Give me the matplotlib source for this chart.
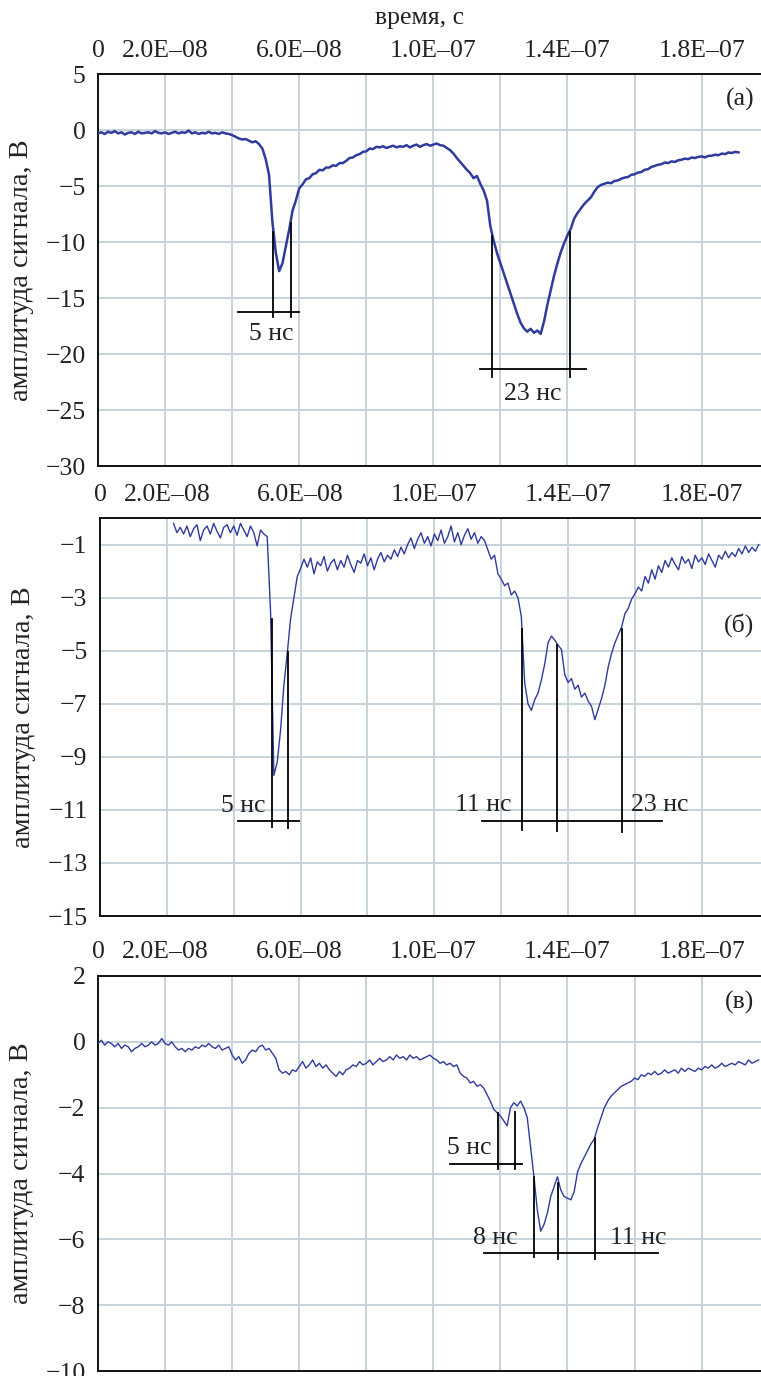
import numpy as np
import matplotlib
matplotlib.use("Agg")
import matplotlib.pyplot as plt

plt.rcParams["font.family"] = ["Liberation Serif", "DejaVu Serif"]

# ---- signal data: amplitude in volts, sampled every 1 ns ----
T_STEP_NS = 1.0

start_a_ns = 0
amp_a = [
    -0.30, -0.20, -0.35, -0.15, -0.25, -0.10, -0.30, -0.20, -0.40, -0.25,
    -0.20, -0.35, -0.15, -0.30, -0.25, -0.20, -0.30, -0.10, -0.25, -0.30,
    -0.20, -0.35, -0.25, -0.15, -0.30, -0.20, -0.25, -0.05, -0.30, -0.20,
    -0.35, -0.25, -0.30, -0.15, -0.30, -0.25, -0.35, -0.20, -0.30, -0.35,
    -0.45, -0.60, -0.75, -0.85, -0.80, -0.95, -1.10, -1.00, -1.25, -1.65,
    -2.60, -4.00, -8.20, -10.90, -12.60, -11.90, -10.40, -8.90, -7.20, -6.30,
    -5.20, -4.85, -4.40, -4.30, -3.95, -3.85, -3.55, -3.60, -3.35, -3.35,
    -3.15, -3.20, -2.95, -2.95, -2.75, -2.50, -2.45, -2.25, -2.15, -1.95,
    -1.90, -1.65, -1.70, -1.50, -1.55, -1.45, -1.60, -1.50, -1.40, -1.55,
    -1.45, -1.50, -1.35, -1.55, -1.40, -1.30, -1.50, -1.35, -1.25, -1.40,
    -1.30, -1.20, -1.35, -1.40, -1.60, -1.80, -2.10, -2.50, -2.85, -3.20,
    -3.55, -3.85, -4.30, -4.10, -4.80, -5.40, -6.30, -8.60, -9.90, -11.00,
    -11.90, -12.80, -13.70, -14.60, -15.50, -16.40, -17.20, -17.70, -18.00, -17.75,
    -18.10, -17.90, -18.20, -17.10, -15.60, -14.30, -13.00, -11.90, -10.90, -10.10,
    -9.40, -8.80, -7.90, -7.40, -7.00, -6.60, -6.30, -6.00, -5.50, -5.10,
    -4.90, -4.80, -4.70, -4.75, -4.55, -4.50, -4.35, -4.25, -4.20, -4.00,
    -3.95, -3.80, -3.75, -3.55, -3.50, -3.30, -3.20, -3.10, -3.05, -2.90,
    -2.95, -2.80, -2.85, -2.70, -2.65, -2.55, -2.60, -2.45, -2.50, -2.40,
    -2.35, -2.45, -2.30, -2.30, -2.20, -2.25, -2.10, -2.15, -2.00, -2.05,
    -1.95, -2.00,
]

start_b_ns = 22
amp_b = [
    -0.20, -0.55, -0.35, -0.60, -0.30, -0.70, -0.40, -0.25, -0.85, -0.45,
    -0.30, -0.60, -0.20, -0.50, -0.75, -0.35, -0.25, -0.55, -0.30, -0.65,
    -0.20, -0.45, -0.70, -0.30, -0.55, -1.05, -0.45, -0.60,
    -0.70, -3.50, -9.70, -9.20, -8.00, -6.30, -5.10, -3.80, -3.00, -2.20,
    -1.90, -1.55, -1.85, -1.50, -2.10, -1.65, -1.80, -1.45, -2.00, -1.70,
    -1.55, -1.95, -1.60, -1.85, -1.40, -1.75, -2.05, -1.60, -1.70, -1.35,
    -1.80, -1.50, -1.95, -1.55, -1.30, -1.65, -1.40, -1.55, -1.20, -1.45,
    -1.10, -1.35, -1.00, -0.75, -1.15, -0.80, -0.55, -0.95, -0.70, -1.05,
    -0.60, -0.85, -0.45, -0.95, -0.70, -0.30, -0.90, -0.55, -1.00, -0.65,
    -0.40, -0.80, -0.55, -0.95, -0.70, -0.85, -1.20, -1.55, -1.40, -2.10,
    -2.30, -2.55, -2.45, -2.90, -2.75, -3.00, -3.70, -6.20, -7.00, -7.25,
    -6.85, -6.60, -6.10, -5.50, -4.70, -4.45, -4.60, -4.80, -4.95, -5.90,
    -6.20, -6.05, -6.45, -6.30, -6.75, -6.60, -6.90, -7.10, -7.60, -7.20,
    -6.80, -6.30, -5.60, -5.10, -4.70, -4.40, -4.10, -3.60, -3.40, -3.05,
    -2.85, -2.60, -2.75, -2.20, -2.45, -1.95, -2.30, -1.80, -2.05, -1.60,
    -1.85, -1.50, -1.75, -1.95, -1.45, -1.70, -1.55, -1.90, -1.40, -1.65,
    -1.50, -1.75, -1.35, -1.60, -1.85, -1.40, -1.55, -1.25, -1.50, -1.30,
    -1.45, -1.15, -1.35, -1.05, -1.30, -1.10, -1.25, -1.00,
]

start_c_ns = 0
amp_c = [
    -0.05, 0.05, -0.10, 0.00, -0.05, -0.15, -0.05, -0.20, -0.10, -0.15,
    -0.30, -0.20, -0.15, -0.05, -0.15, -0.10, 0.00, -0.10, -0.05, 0.10,
    -0.05, -0.10, 0.00, -0.15, -0.25, -0.20, -0.30, -0.20, -0.25, -0.15,
    -0.20, -0.10, -0.15, -0.05, -0.15, -0.20, -0.10, -0.25, -0.20, -0.15,
    -0.40, -0.55, -0.45, -0.65, -0.55, -0.35, -0.25, -0.30, -0.15, -0.10,
    -0.25, -0.20, -0.35, -0.50, -0.85, -0.95, -0.90, -1.00, -0.85, -0.90,
    -0.75, -0.60, -0.80, -0.70, -0.55, -0.75, -0.65, -0.80, -0.70, -0.85,
    -0.95, -1.05, -0.90, -1.00, -0.85, -0.80, -0.70, -0.75, -0.60, -0.70,
    -0.65, -0.55, -0.70, -0.60, -0.50, -0.60, -0.55, -0.45, -0.55, -0.40,
    -0.50, -0.45, -0.55, -0.40, -0.50, -0.45, -0.55, -0.50, -0.45, -0.40,
    -0.50, -0.55, -0.65, -0.60, -0.70, -0.65, -0.75, -0.70, -0.95, -1.05,
    -1.10, -1.25, -1.20, -1.35, -1.30, -1.40, -1.60, -1.80, -2.05, -2.15,
    -2.25, -2.40, -2.55, -2.00, -1.85, -1.95, -1.80, -2.00, -2.30, -3.20,
    -4.10, -5.10, -5.75, -5.55, -5.20, -4.70, -4.40, -4.10, -4.50, -4.70,
    -4.75, -4.80, -4.55, -3.95, -3.70, -3.50, -3.30, -3.10, -2.95, -2.60,
    -2.30, -2.00, -1.80, -1.65, -1.55, -1.45, -1.35, -1.30, -1.25, -1.20,
    -1.10, -1.15, -1.00, -1.05, -0.95, -1.00, -0.90, -1.00, -0.95, -0.85,
    -0.95, -0.90, -0.85, -0.95, -0.80, -0.90, -0.80, -0.85, -0.90, -0.80,
    -0.85, -0.75, -0.80, -0.70, -0.80, -0.75, -0.65, -0.75, -0.70, -0.65,
    -0.70, -0.60, -0.65, -0.70, -0.55, -0.65, -0.60, -0.55,
]

# ---- axis ticks ----
x_ticks = [0, 2e-8, 4e-8, 6e-8, 8e-8, 1e-7, 1.2e-7, 1.4e-7, 1.6e-7, 1.8e-7]
x_labels = ["0", "2.0E\u201308", "", "6.0E\u201308", "", "1.0E\u201307", "",
            "1.4E\u201307", "", "1.8E\u201307"]
x_labels_b = x_labels[:-1] + ["1.8E-07"]

y_ticks_a = [5, 0, -5, -10, -15, -20, -25, -30]
y_ticks_b = [-1, -3, -5, -7, -9, -11, -13, -15]
y_ticks_c = [2, 0, -2, -4, -6, -8, -10]

# ---- pulse-width markers (time in ns, amplitude in V) ----
# each bracket: vertical lines (t, top, bottom), base line (t0, t1, y), labels (t, y, text)
marks_a = {
    "vlines": [(52.2, -9.1, -16.7), (57.6, -8.3, -16.7),
               (117.6, -9.5, -22.05), (140.6, -9.1, -22.05)],
    "hlines": [(41.8, 60.0, -16.25), (114.0, 145.4, -21.3)],
    "texts": [(51.7, -18.2, "5 нс"), (129.7, -23.6, "23 нс")],
}
marks_b = {
    "vlines": [(51.3, -3.8, -11.65), (56.1, -5.06, -11.7),
               (126.3, -4.2, -11.75), (136.7, -4.8, -11.8), (156.1, -4.2, -11.85)],
    "hlines": [(41.2, 59.4, -11.43), (114.3, 168.1, -11.43)],
    "texts": [(42.7, -10.85, "5 нс"), (114.6, -10.8, "11 нс"), (167.5, -10.8, "23 нс")],
}
marks_c = {
    "vlines": [(119.4, -2.16, -3.86), (124.2, -2.13, -3.86),
               (130.1, -4.1, -6.55), (137.3, -4.3, -6.6), (148.1, -2.92, -6.6)],
    "hlines": [(105.1, 126.3, -3.71), (115.0, 166.9, -6.4)],
    "texts": [(110.7, -3.22, "5 нс"), (118.5, -5.95, "8 нс"), (161.0, -5.95, "11 нс")],
}

GRID = "#c6d3dc"
TRACE = "#2f3b9d"
FS = 18.5
FS_LABEL = 20.5


def build_time(start_ns, n):
    return (start_ns + T_STEP_NS * np.arange(n)) * 1e-9


def style_axes(ax, yticks, ylim, xlabels):
    ax.set_xlim(0, 1.98e-7)
    ax.set_ylim(*ylim)
    ax.xaxis.tick_top()
    ax.set_xticks(x_ticks)
    ax.set_xticklabels(xlabels)
    ax.set_yticks(yticks)
    ax.set_yticklabels([str(v).replace("-", "\u2212") for v in yticks])
    ax.tick_params(axis="both", length=0, labelsize=FS, colors="#222222")
    ax.tick_params(axis="x", pad=9)
    ax.tick_params(axis="y", pad=9)
    ax.grid(True, color=GRID, linewidth=1.4)
    ax.set_axisbelow(True)
    ax.spines["right"].set_visible(False)
    for s in ("left", "top", "bottom"):
        ax.spines[s].set_linewidth(1.4)
        ax.spines[s].set_color("#111111")
    ax.set_ylabel("амплитуда сигнала, В", fontsize=FS_LABEL, color="#222222")
    ax.yaxis.set_label_coords(-0.096, 0.5)


def draw_marks(ax, marks):
    for t, top, bot in marks["vlines"]:
        ax.plot([t * 1e-9, t * 1e-9], [top, bot], color="black", lw=1.3, zorder=4)
    for t0, t1, y in marks["hlines"]:
        ax.plot([t0 * 1e-9, t1 * 1e-9], [y, y], color="black", lw=1.3, zorder=4)
    for t, y, s in marks["texts"]:
        ax.text(t * 1e-9, y, s, ha="center", va="center", fontsize=FS,
                color="#222222", zorder=5)


fig = plt.figure(figsize=(7.61, 13.76), dpi=100)

ax_a = fig.add_axes([0.1288, 0.6613, 0.8725, 0.2849])
ax_b = fig.add_axes([0.1314, 0.3343, 0.8700, 0.2892])
ax_c = fig.add_axes([0.1288, 0.0036, 0.8725, 0.2871])

ax_a.plot(build_time(start_a_ns, len(amp_a)), amp_a, color=TRACE, lw=1.8, zorder=3)
ax_b.plot(build_time(start_b_ns, len(amp_b)), amp_b, color=TRACE, lw=1.0, zorder=3)
ax_c.plot(build_time(start_c_ns, len(amp_c)), amp_c, color=TRACE, lw=1.0, zorder=3)

style_axes(ax_a, y_ticks_a, (-30, 5), x_labels)
style_axes(ax_b, y_ticks_b, (-15, 0), x_labels_b)
style_axes(ax_c, y_ticks_c, (-10, 2), x_labels)

draw_marks(ax_a, marks_a)
draw_marks(ax_b, marks_b)
draw_marks(ax_c, marks_c)

ax_a.text(0.988, 0.934, "(а)", transform=ax_a.transAxes, ha="right", va="center",
          fontsize=FS, color="#222222")
ax_b.text(0.988, 0.73, "(б)", transform=ax_b.transAxes, ha="right", va="center",
          fontsize=FS, color="#222222")
ax_c.text(0.988, 0.932, "(в)", transform=ax_c.transAxes, ha="right", va="center",
          fontsize=FS, color="#222222")

fig.text(420 / 761, 1 - 18 / 1376, "время, с", ha="center", va="center",
         fontsize=FS, color="#222222")

fig.savefig("out.png", dpi=100)
